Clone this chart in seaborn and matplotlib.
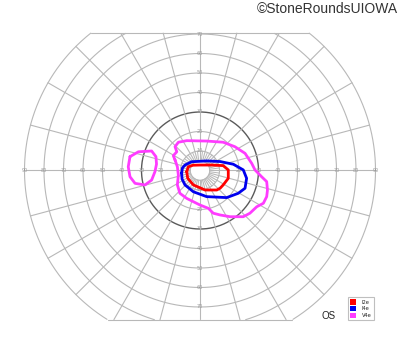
import numpy as np
import pandas as pd
import matplotlib
matplotlib.use("Agg")
import matplotlib.pyplot as plt
from matplotlib.patches import Patch
import seaborn as sns

# ---- data (degrees of visual field; x = horizontal, y = vertical) ----
i2e_x = [-6.8, -6.0, -3.6, 0.0, 6.2, 11.9, 14.5, 14.5, 11.9, 10.3, 8.6, 2.6, -3.4, -6.3]
i2e_y = [-0.6, 1.9, 2.7, 2.8, 2.8, 2.5, 0.3, -4.0, -7.4, -9.1, -10.0, -10.0, -7.4, -4.0]

i4e_x = [-9.4, -9.0, -7.7, -4.3, 3.4, 10.3, 17.1, 22.2, 23.9, 23.1, 19.6, 13.7, 3.4, -3.4, -7.7, -9.2]
i4e_y = [-1.4, 1.3, 2.8, 4.5, 4.9, 4.6, 3.2, 0.3, -4.0, -9.1, -11.7, -13.9, -13.4, -10.9, -7.4, -4.4]

v4e_x = [-12.8, -13.7, -11.9, -12.8, -11.1, -6.8, 3.4, 11.9, 17.9, 23.1, 26.5, 28.2, 31.6, 34.2,
         34.6, 34.2, 32.5, 29.1, 25.6, 22.2, 15.4, 10.3, 6.8, 4.3, 0.0, -6.8, -10.3, -11.6, -11.1, -11.6]
v4e_y = [5.4, 7.6, 9.6, 12.2, 14.5, 15.3, 15.1, 14.5, 12.2, 8.8, 3.7, 0.3, -3.2, -5.7,
         -10.0, -13.4, -16.8, -18.6, -21.9, -23.7, -23.7, -22.8, -21.9, -19.4, -17.7, -14.3, -11.7, -7.4, -2.3, 1.9]

v4e_island_x = [-35.9, -31.6, -24.8, -22.6, -22.3, -23.1, -24.8, -28.2, -33.3, -35.9, -36.8]
v4e_island_y = [7.1, 9.6, 10.0, 7.1, 3.3, -0.6, -4.9, -7.4, -6.6, -3.2, 1.9]

isopter_names = ["I2e", "I4e", "V4e"]
isopter_colors = ["#ff0000", "#0000ee", "#ff3cff"]

ring_radii = [5, 10, 20, 30, 40, 50, 60, 70, 80, 90]
h_labels = [20, 30, 40, 50, 60, 70, 80, 90]
v_labels = [10, 20, 30, 40, 50, 60, 70]
top_limit = 70.5
bottom_limit = -76.7

# ---- figure ----
sns.set_theme(style="white")
fig = plt.figure(figsize=(4.0, 3.52), dpi=100)
ax = fig.add_axes([0, 0, 1, 1])
scale = 1.95
cx, cy = 200.0, 170.5
ax.set_xlim(-cx / scale, (400 - cx) / scale)
ax.set_ylim(-(352 - cy) / scale, cy / scale)
ax.set_aspect("equal")
ax.axis("off")

grid_c = "#b8b8b8"
# rings (clipped top and bottom)
t = np.linspace(0, 2 * np.pi, 721)
for r in ring_radii:
    xs = r * np.cos(t)
    ys = r * np.sin(t)
    m = (ys <= top_limit) & (ys >= bottom_limit)
    xs = np.where(m, xs, np.nan)
    ys = np.where(m, ys, np.nan)
    col = "#5a5a5a" if r == 30 else grid_c
    ax.plot(xs, ys, color=col, lw=1.0 if r == 30 else 0.8, zorder=1)

# radial spokes every 15 degrees
for a in range(0, 360, 15):
    ang = np.deg2rad(a)
    rr = np.linspace(5, 90, 200)
    xs = rr * np.cos(ang)
    ys = rr * np.sin(ang)
    m = (ys <= top_limit) & (ys >= bottom_limit)
    ax.plot(xs[m], ys[m], color=grid_c, lw=0.8, zorder=1)
# extra short spokes near centre
for a in np.arange(7.5, 360, 15):
    ang = np.deg2rad(a)
    ax.plot([5 * np.cos(ang), 10 * np.cos(ang)], [5 * np.sin(ang), 10 * np.sin(ang)],
            color=grid_c, lw=0.7, zorder=1)

# clipping lines top / bottom
xt = np.sqrt(90 ** 2 - top_limit ** 2)
xb = np.sqrt(90 ** 2 - bottom_limit ** 2)
ax.plot([-xt, xt], [top_limit, top_limit], color=grid_c, lw=0.8, zorder=1)
ax.plot([-xb, xb], [bottom_limit, bottom_limit], color=grid_c, lw=0.8, zorder=1)

# axis labels
lab_c = "#9a9a9a"
for v in h_labels:
    for s in (-1, 1):
        ax.text(s * v, 0, str(v), fontsize=3.5, color=lab_c, ha="center", va="center", zorder=2)
for v in v_labels:
    for s in (-1, 1):
        ax.text(0, s * v, str(v), fontsize=3.5, color=lab_c, ha="center", va="center", zorder=2)

# isopters
def closed(xs, ys):
    return pd.DataFrame({"x": list(xs) + [xs[0]], "y": list(ys) + [ys[0]]})

curves = [(i2e_x, i2e_y, 0), (i4e_x, i4e_y, 1), (v4e_x, v4e_y, 2), (v4e_island_x, v4e_island_y, 2)]
for xs, ys, k in curves:
    df = closed(xs, ys)
    sns.lineplot(data=df, x="x", y="y", sort=False, estimator=None, ax=ax,
                 color=isopter_colors[k], lw=2.0, legend=False, zorder=5,
                 solid_joinstyle="round", solid_capstyle="round")
ax.set_xlabel("")
ax.set_ylabel("")
ax.set_xlim(-cx / scale, (400 - cx) / scale)
ax.set_ylim(-(352 - cy) / scale, cy / scale)

# legend
handles = [Patch(facecolor=c, edgecolor="none") for c in isopter_colors]
leg = ax.legend(handles, isopter_names, loc="lower left", bbox_to_anchor=(0.864, 0.083),
                fontsize=3.7, handlelength=1.0, handleheight=1.15, handletextpad=1.2,
                borderpad=0.45, labelspacing=0.25, frameon=True, fancybox=False)
leg.get_frame().set_edgecolor("#b0b0b0")
leg.get_frame().set_linewidth(0.8)

fig.text(322 / 400, 1 - 316 / 352, "OS", fontsize=7, color="#222222",
         ha="left", va="center", family="Liberation Sans")
fig.text(398 / 400, 1 - 9 / 352, "\u00a9StoneRoundsUIOWA", fontsize=10, color="#333333",
         ha="right", va="center", family="Liberation Sans")

fig.savefig("out.png", dpi=100)
